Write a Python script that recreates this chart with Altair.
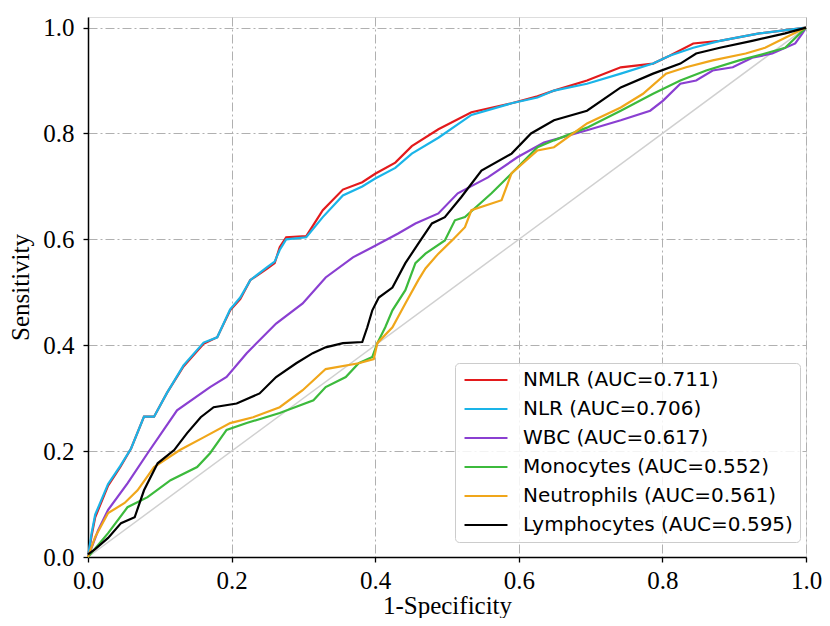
import altair as alt
import pandas as pd

series_names = [
    "NMLR (AUC=0.711)",
    "NLR (AUC=0.706)",
    "WBC (AUC=0.617)",
    "Monocytes (AUC=0.552)",
    "Neutrophils (AUC=0.561)",
    "Lymphocytes (AUC=0.595)",
]
series_colors = ["#e31a1c", "#1ab4e8", "#8a3fd1", "#3cba3c", "#f0a61a", "#000000"]

nmlr_x = [0, 0.005, 0.01, 0.028, 0.045, 0.06, 0.078, 0.092, 0.11, 0.133,
          0.161, 0.18, 0.198, 0.212, 0.226, 0.25, 0.26, 0.267, 0.276, 0.304,
          0.327, 0.355, 0.382, 0.40, 0.428, 0.451, 0.488, 0.534, 0.59, 0.626,
          0.649, 0.695, 0.742, 0.787, 0.81, 0.843, 0.88, 0.935, 1.0]
nmlr_y = [0, 0.04, 0.075, 0.135, 0.17, 0.205, 0.265, 0.265, 0.31, 0.36,
          0.403, 0.415, 0.466, 0.487, 0.523, 0.545, 0.555, 0.585, 0.604, 0.606,
          0.655, 0.694, 0.708, 0.724, 0.745, 0.776, 0.808, 0.84, 0.857, 0.87,
          0.881, 0.9, 0.925, 0.932, 0.947, 0.97, 0.975, 0.989, 1.0]

nlr_x = nmlr_x
nlr_y = [0, 0.045, 0.08, 0.138, 0.172, 0.205, 0.265, 0.265, 0.31, 0.362,
         0.405, 0.415, 0.468, 0.49, 0.523, 0.548, 0.558, 0.58, 0.6, 0.604,
         0.642, 0.683, 0.7, 0.715, 0.735, 0.762, 0.792, 0.835, 0.857, 0.868,
         0.881, 0.894, 0.913, 0.932, 0.947, 0.962, 0.975, 0.989, 1.0]

wbc_x = [0, 0.014, 0.028, 0.055, 0.083, 0.124, 0.17, 0.193, 0.221, 0.262,
         0.299, 0.331, 0.369, 0.396, 0.432, 0.456, 0.488, 0.515, 0.557, 0.598,
         0.635, 0.695, 0.742, 0.783, 0.801, 0.825, 0.847, 0.87, 0.898, 0.925,
         0.953, 0.985, 0.995, 1.0]
wbc_y = [0, 0.05, 0.089, 0.139, 0.196, 0.277, 0.321, 0.34, 0.385, 0.441,
         0.479, 0.528, 0.566, 0.585, 0.611, 0.63, 0.649, 0.687, 0.717, 0.755,
         0.783, 0.806, 0.825, 0.843, 0.862, 0.894, 0.9, 0.919, 0.925, 0.943,
         0.951, 0.97, 0.989, 1.0]

mono_x = [0, 0.028, 0.055, 0.083, 0.115, 0.152, 0.17, 0.193, 0.221, 0.267,
          0.314, 0.331, 0.359, 0.377, 0.396, 0.403, 0.414, 0.424, 0.442, 0.456,
          0.47, 0.497, 0.511, 0.525, 0.562, 0.594, 0.626, 0.649, 0.695, 0.742,
          0.787, 0.825, 0.861, 0.907, 0.943, 0.971, 1.0]
mono_y = [0, 0.045, 0.094, 0.113, 0.145, 0.17, 0.196, 0.24, 0.253, 0.272,
          0.296, 0.321, 0.34, 0.366, 0.378, 0.404, 0.434, 0.466, 0.504, 0.555,
          0.573, 0.598, 0.636, 0.642, 0.687, 0.73, 0.774, 0.787, 0.811, 0.843,
          0.875, 0.9, 0.919, 0.938, 0.951, 0.962, 1.0]

neut_x = [0, 0.01, 0.028, 0.051, 0.069, 0.092, 0.128, 0.161, 0.198, 0.23,
          0.267, 0.299, 0.331, 0.377, 0.398, 0.403, 0.424, 0.442, 0.46, 0.47,
          0.488, 0.507, 0.525, 0.534, 0.576, 0.59, 0.626, 0.649, 0.695, 0.742,
          0.773, 0.805, 0.833, 0.87, 0.916, 0.943, 0.971, 1.0]
neut_y = [0, 0.038, 0.083, 0.102, 0.126, 0.17, 0.202, 0.226, 0.253, 0.264,
          0.283, 0.315, 0.355, 0.366, 0.374, 0.404, 0.434, 0.479, 0.523, 0.545,
          0.573, 0.598, 0.623, 0.655, 0.674, 0.725, 0.768, 0.774, 0.819, 0.849,
          0.875, 0.913, 0.925, 0.938, 0.951, 0.962, 0.981, 1.0]

lymph_x = [0, 0.01, 0.028, 0.046, 0.065, 0.078, 0.097, 0.12, 0.138, 0.157,
           0.175, 0.207, 0.239, 0.262, 0.29, 0.313, 0.331, 0.355, 0.382, 0.389,
           0.396, 0.405, 0.424, 0.442, 0.46, 0.479, 0.497, 0.52, 0.548, 0.59,
           0.617, 0.649, 0.695, 0.742, 0.787, 0.825, 0.847, 0.88, 0.925, 0.971,
           1.0]
lymph_y = [0.005, 0.015, 0.036, 0.064, 0.075, 0.126, 0.177, 0.202, 0.234, 0.264,
           0.283, 0.29, 0.309, 0.34, 0.366, 0.385, 0.396, 0.404, 0.406, 0.434,
           0.466, 0.49, 0.509, 0.555, 0.592, 0.63, 0.642, 0.68, 0.73, 0.762,
           0.8, 0.825, 0.843, 0.887, 0.913, 0.932, 0.951, 0.962, 0.975, 0.989,
           1.0]

diag_x = [0, 1]
diag_y = [0, 1]

tick_values = [0.0, 0.2, 0.4, 0.6, 0.8, 1.0]

all_x = [nmlr_x, nlr_x, wbc_x, mono_x, neut_x, lymph_x]
all_y = [nmlr_y, nlr_y, wbc_y, mono_y, neut_y, lymph_y]

rows = []
for name, xs, ys in zip(series_names, all_x, all_y):
    for i, (a, b) in enumerate(zip(xs, ys)):
        rows.append({"series": name, "fpr": a, "tpr": b, "idx": i})
df = pd.DataFrame(rows)
diag_df = pd.DataFrame({"fpr": diag_x, "tpr": diag_y})

serif = "Liberation Serif"
grid_style = dict(grid=True, gridColor="#b0b0b0", gridDash=[9, 3, 2, 3], gridWidth=1,
                  domainColor="black", domainWidth=1.5, tickColor="black", tickSize=5,
                  tickWidth=1.3, labelFont=serif, labelFontSize=25, labelColor="black",
                  titleFont=serif, titleFontSize=25, titleFontWeight="normal",
                  titleColor="black", values=tick_values, format=".1f",
                  labelFlush=False, labelOverlap=False)

x_enc = alt.X("fpr:Q", scale=alt.Scale(domain=[0, 1], nice=False, zero=False),
              axis=alt.Axis(title="1-Specificity", labelPadding=6, titlePadding=0,
                            **grid_style))
y_enc = alt.Y("tpr:Q", scale=alt.Scale(domain=[0, 1.02], nice=False, zero=False),
              axis=alt.Axis(title="Sensitivity", labelPadding=9, titlePadding=9,
                            **grid_style))

diag = alt.Chart(diag_df).mark_line(color="#d0d0d0", strokeWidth=1.5).encode(
    x=x_enc, y=y_enc
)

lines = alt.Chart(df).mark_line(strokeWidth=2.2).encode(
    x=x_enc,
    y=y_enc,
    order="idx:Q",
    color=alt.Color(
        "series:N",
        sort=series_names,
        scale=alt.Scale(domain=series_names, range=series_colors),
        legend=alt.Legend(
            title=None, orient="none", legendX=367, legendY=346,
            symbolType="M-3,0H3", symbolSize=205, symbolStrokeWidth=2,
            symbolOffset=14, labelOffset=27, labelLimit=500,
            labelFont="DejaVu Sans", labelFontSize=20, labelColor="black",
            fillColor="rgba(255,255,255,0.85)", strokeColor="#cccccc",
            cornerRadius=4, padding=7, rowPadding=9,
        ),
    ),
)

chart = alt.layer(diag, lines).properties(
    width=718, height=540,
    padding={"left": 80, "top": 9, "right": 16, "bottom": 61},
    autosize=alt.AutoSizeParams(type="none"),
).configure_view(stroke="black", strokeWidth=1.5).configure(background="white")

chart.save("out.html", embed_options={"renderer": "svg", "actions": False})
